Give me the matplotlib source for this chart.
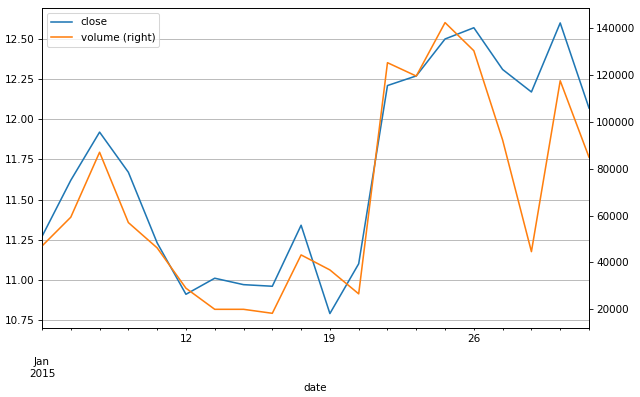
import numpy as np
import matplotlib
matplotlib.use('Agg')
import matplotlib.pyplot as plt

# business days 5 Jan - 30 Jan 2015
days = [5, 6, 7, 8, 9, 12, 13, 14, 15, 16, 19, 20, 21, 22, 23, 26, 27, 28, 29, 30]
close = [11.27, 11.62, 11.92, 11.67, 11.23, 10.91, 11.01, 10.97, 10.96, 11.34,
         10.79, 11.10, 12.21, 12.27, 12.50, 12.57, 12.31, 12.17, 12.60, 12.07]
volume = [47000, 59300, 87000, 57000, 46200, 29000, 20000, 20000, 18300, 43200,
          36800, 26600, 125200, 119500, 142300, 130300, 92200, 44600, 117500, 84900]

x = np.arange(len(days))

fig = plt.figure(figsize=(640/75, 397/75), dpi=75)
ax1 = fig.add_axes([42/640, 1-328/397, (589-42)/640, 320/397])
ax2 = ax1.twinx()

l1, = ax1.plot(x, close, '-', lw=1.5, color='#1f77b4', label='close')
l2, = ax2.plot(x, volume, '-', lw=1.5, color='#ff7f0e', label='volume (right)')

ax1.set_xlim(0, len(days)-1)
ax1.set_ylim(10.70, 12.693)
ax2.set_ylim(12030, 148530)
ax1.set_yticks([10.75, 11.00, 11.25, 11.50, 11.75, 12.00, 12.25, 12.50])
ax1.set_yticklabels(['%.2f' % v for v in ax1.get_yticks()])
ax2.set_yticks([20000, 40000, 60000, 80000, 100000, 120000, 140000])

# month label on the first day, day number on each Monday (after a weekend gap)
labels = ['\n\nJan\n2015']
for i in range(1, len(days)):
    if days[i] - days[i-1] > 1:
        labels.append(str(days[i]))
    else:
        labels.append('')
ax1.set_xticks(x)
ax1.set_xticklabels(labels)
ax1.tick_params(axis='x', length=2)

ax1.grid(True, axis='y', color='#b0b0b0', lw=0.8)
ax1.set_xlabel('date')

ax1.legend([l1, l2], ['close', 'volume (right)'], loc='upper left')

plt.savefig('out.png', dpi=75)
